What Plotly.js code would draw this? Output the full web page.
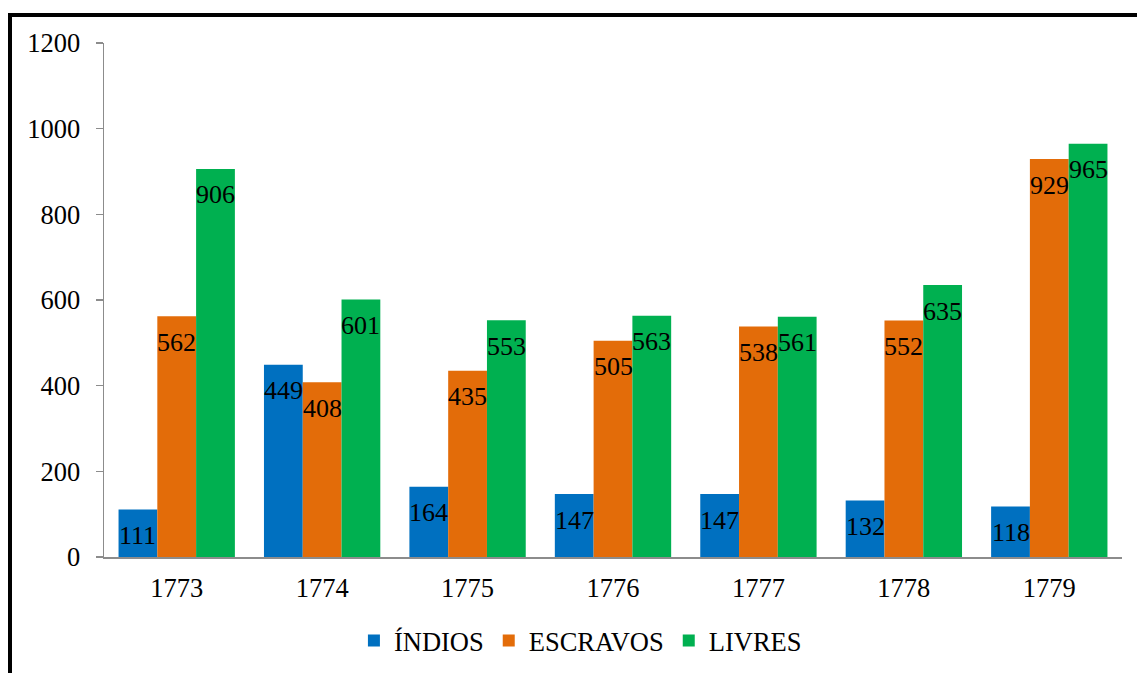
<!DOCTYPE html>
<html>
<head>
<meta charset="utf-8">
<script src="https://cdn.plot.ly/plotly-3.0.1.min.js"></script>
<style>
  html, body { margin: 0; padding: 0; background: #fff; overflow: hidden; }
  #chart { position: absolute; left: 0; top: 0; width: 1137px; height: 673px; }
  #frame { position: absolute; left: 8px; top: 13px; width: 1200px; height: 800px;
           border-left: 4.5px solid #000; border-top: 4px solid #000; pointer-events: none; }
</style>
</head>
<body>
<div id="chart"></div>
<div id="frame"></div>
<script>
const years = ['1773', '1774', '1775', '1776', '1777', '1778', '1779'];
const indios = [111, 449, 164, 147, 147, 132, 118];
const escravos = [562, 408, 435, 505, 538, 552, 929];
const livres = [906, 601, 553, 563, 561, 635, 965];
const seriesNames = ['ÍNDIOS', 'ESCRAVOS', 'LIVRES'];
const seriesColors = ['#0070C0', '#E36C09', '#00B050'];
const yTicks = [0, 200, 400, 600, 800, 1000, 1200];

const FONT = 'Liberation Serif, serif';
const FS = 26.5;
const allSeries = [indios, escravos, livres];

const traces = allSeries.map((vals, i) => ({
  type: 'bar',
  name: seriesNames[i],
  x: years,
  y: vals,
  marker: { color: seriesColors[i], line: { width: 0 } },
  hoverinfo: 'x+y+name'
}));

// data labels placed just inside the top of each bar
const plotW = 1137 - 104 - 15;
const catW = plotW / years.length;
const barW = catW * 0.8 / 3;
const annotations = [];
allSeries.forEach((vals, i) => {
  vals.forEach((v, j) => {
    annotations.push({
      x: j, y: v, xref: 'x', yref: 'y',
      text: String(v), showarrow: false,
      xshift: (i - 1) * barW, yshift: -26,
      yanchor: 'middle', xanchor: 'center',
      font: { family: FONT, size: 26, color: '#000' }
    });
  });
});

const layout = {
  width: 1137, height: 673,
  margin: { l: 104, r: 15, t: 43, b: 116, autoexpand: false },
  paper_bgcolor: '#fff', plot_bgcolor: '#fff',
  barmode: 'group', bargap: 0.2, bargroupgap: 0,
  font: { family: FONT, size: FS, color: '#000' },
  xaxis: {
    type: 'category', categoryarray: years, range: [-0.5, years.length - 0.5],
    autorange: false, automargin: false,
    showline: true, linecolor: '#8C8C8C', linewidth: 1.5,
    ticks: '', showgrid: false, zeroline: false,
    tickfont: { family: FONT, size: FS, color: '#000' },
    ticklabelstandoff: 7
  },
  yaxis: {
    range: [0, 1200], autorange: false, automargin: false,
    tickvals: yTicks, ticktext: yTicks.map(String),
    showline: true, linecolor: '#8C8C8C', linewidth: 1.5,
    ticks: 'outside', ticklen: 7, tickcolor: '#8C8C8C', tickwidth: 1.5,
    showgrid: false, zeroline: false,
    tickfont: { family: FONT, size: FS, color: '#000' },
    ticklabelstandoff: 10
  },
  legend: {
    orientation: 'h', x: 0.468, xanchor: 'center',
    yref: 'container', y: 0.048, yanchor: 'middle',
    font: { family: FONT, size: FS, color: '#000' },
    itemwidth: 30, traceorder: 'normal'
  },
  annotations: annotations,
  showlegend: true
};

Plotly.newPlot('chart', traces, layout, { staticPlot: true, displayModeBar: false });
</script>
</body>
</html>
